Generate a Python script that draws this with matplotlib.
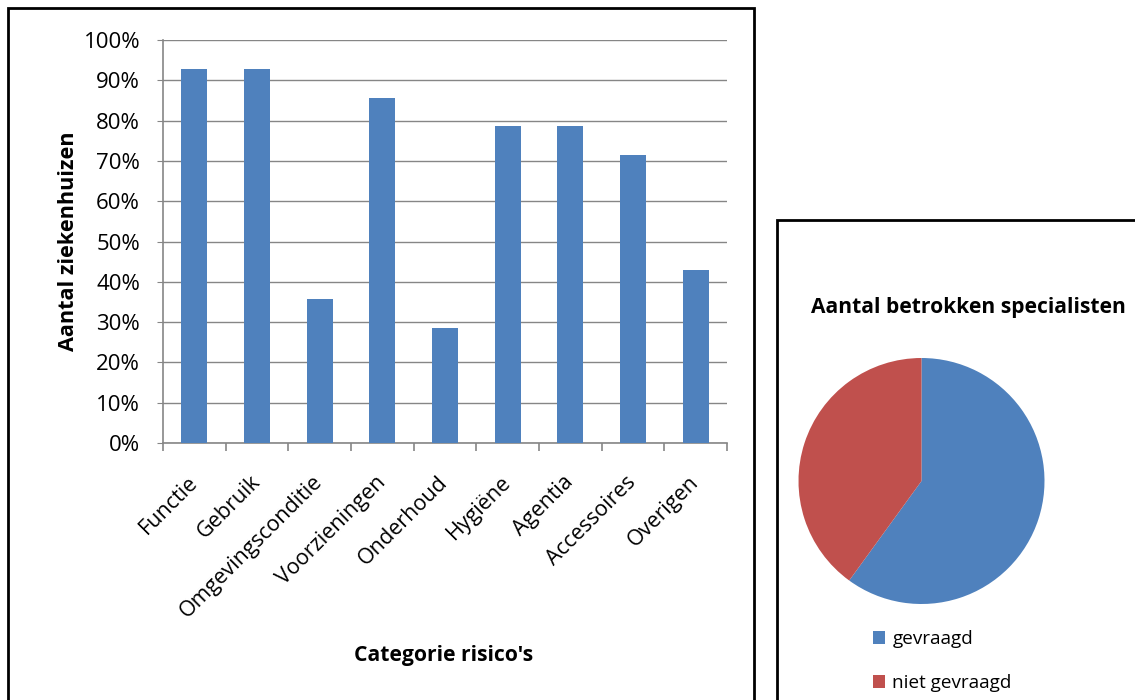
import matplotlib
matplotlib.use("Agg")
import matplotlib.pyplot as plt
from matplotlib.patches import Rectangle
from matplotlib.ticker import PercentFormatter, FixedLocator

plt.rcParams['font.family'] = ['Open Sans', 'DejaVu Sans']

# data: share of hospitals per risk category (out of 14)
categories = ['Functie', 'Gebruik', 'Omgevingsconditie', 'Voorzieningen', 'Onderhoud',
              'Hygiëne', 'Agentia', 'Accessoires', 'Overigen']
shares = [92.9, 92.9, 35.7, 85.7, 28.6, 78.6, 78.6, 71.4, 42.9]

# specialists involved
pie_labels = ['gevraagd', 'niet gevraagd']
pie_values = [60, 40]

blue = '#4F81BD'
red = '#C0504D'
grid_col = '#868686'

W, H = 1135, 700
fig = plt.figure(figsize=(W / 100, H / 100), dpi=100)

def box(x0, y0, x1, y1):
    # pixel coords (top-left origin) -> figure fraction rectangle
    return [x0 / W, 1 - y1 / H, (x1 - x0) / W, (y1 - y0) / H]

# panel frames
for (x0, y0, x1, y1) in [(8, 8, 754, 710), (777, 220, 1145, 710)]:
    l, b, w, h = box(x0, y0, x1, y1)
    fig.add_artist(Rectangle((l, b), w, h, transform=fig.transFigure,
                             fill=False, edgecolor='black', linewidth=2))

# bar chart
ax = fig.add_axes(box(163, 40, 727, 443))
x = range(len(categories))
ax.bar(x, shares, width=0.42, color=blue, zorder=3)
ax.set_xlim(-0.5, len(categories) - 0.5)
ax.set_ylim(0, 100)
ax.set_yticks(range(0, 101, 10))
ax.yaxis.set_major_formatter(PercentFormatter(decimals=0))
ax.yaxis.grid(True, color=grid_col, linewidth=1, zorder=0)
for s in ['top', 'right']:
    ax.spines[s].set_visible(False)
for s in ['left', 'bottom']:
    ax.spines[s].set_color(grid_col)
    ax.spines[s].set_linewidth(1.2)
ax.tick_params(axis='y', length=4.5, color=grid_col, labelsize=16, pad=12)

ax.set_xticks(list(x))
ax.set_xticklabels(categories, rotation=45, ha='right', va='center',
                   rotation_mode='anchor', fontsize=15.5)
ax.tick_params(axis='x', which='major', length=0, pad=26)
ax.xaxis.set_minor_locator(FixedLocator([i - 0.5 for i in range(len(categories) + 1)]))
ax.tick_params(axis='x', which='minor', length=6, color=grid_col, width=1.2)

fig.text(68 / W, 1 - 241 / H, 'Aantal ziekenhuizen', fontsize=15.6,
         fontweight='bold', rotation=90, ha='center', va='center')
fig.text(444 / W, 1 - 655 / H, "Categorie risico's", fontsize=15.2,
         fontweight='bold', ha='center', va='center')

# pie chart
pax = fig.add_axes(box(798.5, 358, 1044.5, 604))
wedges, _ = pax.pie(pie_values, colors=[blue, red], startangle=90,
                    counterclock=False, radius=1)
pax.set_xlim(-1, 1)
pax.set_ylim(-1, 1)
pax.set_aspect('equal')

fig.text(968 / W, 1 - 308 / H, 'Aantal betrokken specialisten', fontsize=15.1,
         fontweight='bold', ha='center', va='center')
fig.legend(wedges, pie_labels, loc='upper left', frameon=False,
           bbox_to_anchor=(873 / W, 1 - 630 / H), fontsize=13.6,
           borderpad=0, borderaxespad=0,
           handlelength=0.65, handleheight=0.65, handletextpad=0.38,
           labelspacing=1.38)

fig.savefig('out.png', dpi=100)
